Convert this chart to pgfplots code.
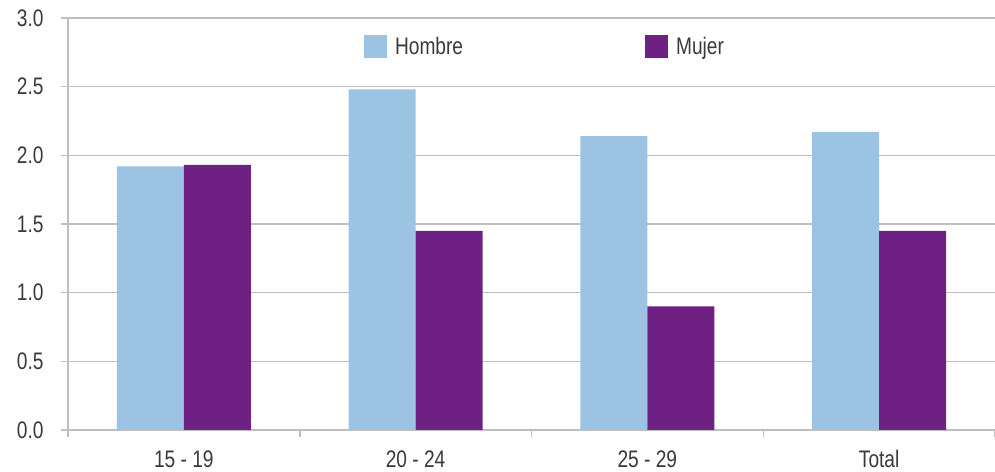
\documentclass[border=0pt]{standalone}
\usepackage{fontspec}
\setmainfont{Liberation Sans}[FakeStretch=0.8]
\usepackage{pgfplots}
\pgfplotsset{compat=1.18}
\definecolor{hombre}{HTML}{9DC3E3}
\definecolor{mujer}{HTML}{6F2083}
\definecolor{gridc}{HTML}{BFBFBF}
\definecolor{txt}{HTML}{3A3A3A}
\begin{document}
\begin{tikzpicture}
\begin{axis}[
  at={(0,0)}, anchor=south west,
  scale only axis, width=927bp, height=412bp,
  xmin=-0.5, xmax=3.5, ymin=0, ymax=3,
  ybar, bar width=67bp,
  axis x line*=bottom, axis y line*=left,
  axis line style={gridc, line width=1.5bp},
  xtick={-0.5,0.5,1.5,2.5,3.5}, x tick label as interval,
  xticklabels={15 - 19,20 - 24,25 - 29,Total},
  ytick={0,0.5,1,1.5,2,2.5,3},
  yticklabel style={/pgf/number format/fixed, /pgf/number format/fixed zerofill, /pgf/number format/precision=1, xshift=-14bp},
  /pgf/number format/assume math mode=true,
  ymajorgrids, xmajorgrids=false, grid style={gridc, line width=1.5bp},
  tick style={gridc, line width=1.5bp}, tick align=outside, major tick length=7bp,
  ticklabel style={font=\fontsize{24}{26}\selectfont, text=txt},
  xticklabel style={yshift=-10bp},
  legend columns=2,
  legend style={at={(0.5146,0.930)}, anchor=center, draw=none, fill=none,
    font=\fontsize{24}{26}\selectfont, text=txt,
    /tikz/every even column/.append style={column sep=180bp}},
  legend image code/.code={\fill[#1] (0bp,-11.5bp) rectangle (23bp,11.5bp); \path (29bp,0bp);},
]
\addplot[fill=hombre, draw=none, bar shift=-33.5bp] coordinates {(0,1.92) (1,2.48) (2,2.14) (3,2.17)};
\addplot[fill=mujer, draw=none, bar shift=33.5bp] coordinates {(0,1.93) (1,1.45) (2,0.90) (3,1.45)};
\legend{Hombre, Mujer}
\end{axis}
\pgfresetboundingbox
\path[use as bounding box] (-68bp,-42bp) rectangle (927bp,430bp);
\end{tikzpicture}
\end{document}
